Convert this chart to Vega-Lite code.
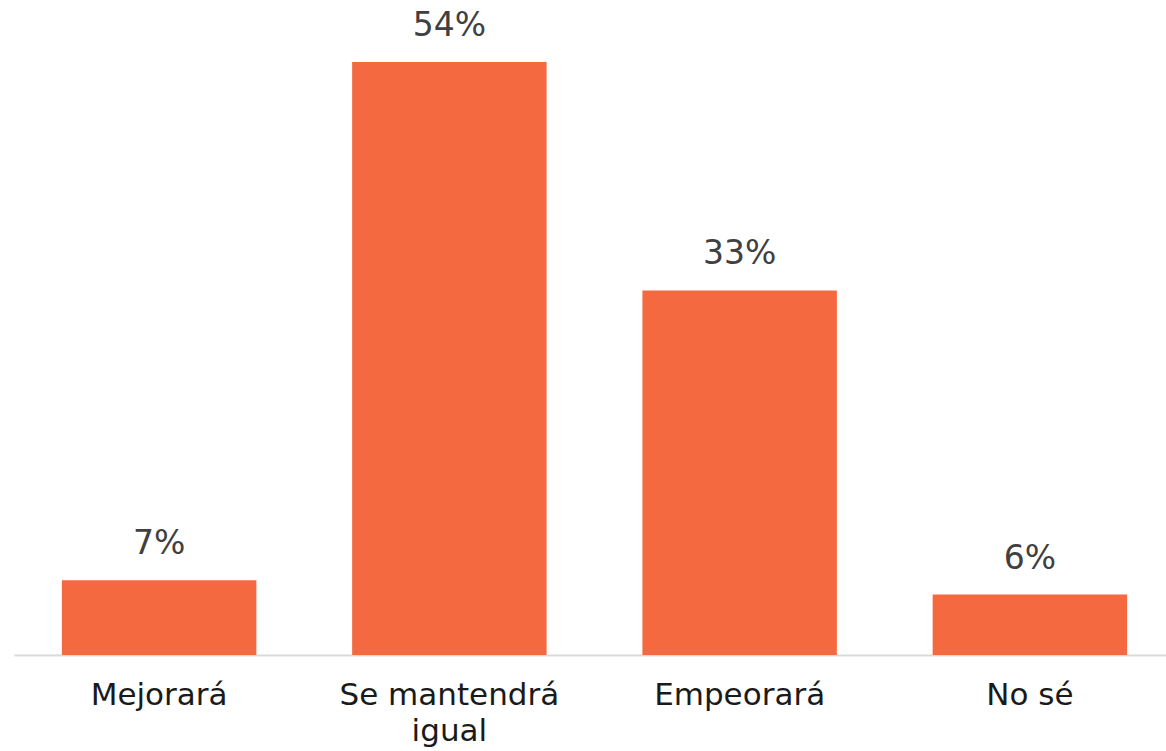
{
  "$schema": "https://vega.github.io/schema/vega-lite/v6.json",
  "width": 1161,
  "height": 655,
  "autosize": {"type": "none"},
  "padding": {"left": 14, "top": 0, "right": 0, "bottom": 96},
  "background": "white",
  "config": {"view": {"stroke": null}, "font": "DejaVu Sans"},
  "data": {"values": [
    {"categoria": "Mejorará", "valor": 6.8, "etiqueta": "7%"},
    {"categoria": "Se mantendrá igual", "valor": 54.0, "etiqueta": "54%"},
    {"categoria": "Empeorará", "valor": 33.2, "etiqueta": "33%"},
    {"categoria": "No sé", "valor": 5.5, "etiqueta": "6%"}
  ]},
  "encoding": {
    "x": {"field": "categoria", "type": "nominal", "sort": null,
      "scale": {"paddingInner": 0.33, "paddingOuter": 0.165},
      "axis": {"title": null, "labelAngle": 0, "ticks": false, "domainColor": "#d9d9d9", "domainWidth": 2,
        "labelFontSize": 31, "labelColor": "#1a1a1a", "labelPadding": 25, "labelLineHeight": 36,
        "labelFont": "DejaVu Sans", "labelLimit": 0,
        "labelExpr": "datum.label == 'Se mantendrá igual' ? ['Se mantendrá', 'igual'] : datum.label"}},
    "y": {"field": "valor", "type": "quantitative", "scale": {"domain": [0, 59.65], "nice": false, "zero": true}, "axis": null}
  },
  "layer": [
    {"mark": {"type": "bar", "color": "#F56941"}},
    {"mark": {"type": "text", "baseline": "bottom", "dy": -19, "fontSize": 33, "color": "#404040", "font": "DejaVu Sans"},
     "encoding": {"text": {"field": "etiqueta"}}}
  ]
}
